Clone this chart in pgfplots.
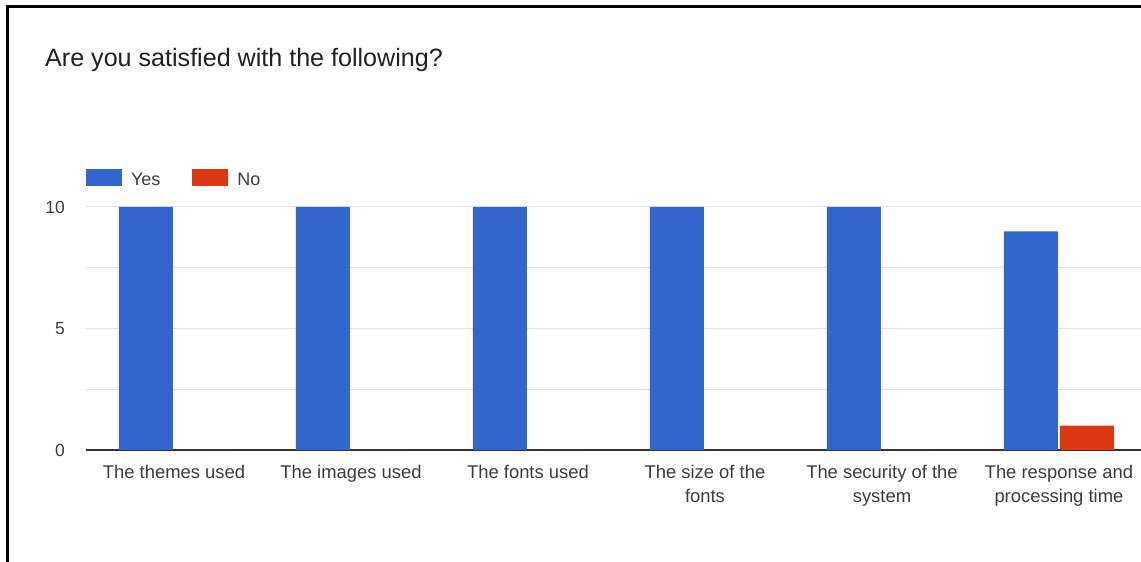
\documentclass[border=0pt]{standalone}
\usepackage{fontspec}
\setmainfont{Liberation Sans}
\usepackage{pgfplots}
\pgfplotsset{compat=1.18}

\definecolor{gblue}{HTML}{3366CC}
\definecolor{gred}{HTML}{DC3912}
\definecolor{gridgray}{HTML}{E2E2E2}
\definecolor{basegray}{HTML}{333333}
\definecolor{labelgray}{HTML}{3C3C3C}
\definecolor{titlegray}{HTML}{212121}

% answers per question
\pgfplotstableread{
x yes no
0 10 0
1 10 0
2 10 0
3 10 0
4 10 0
5 9 1
}\answers

\begin{document}
\begin{tikzpicture}
\useasboundingbox (0pt,0pt) rectangle (1141pt,562pt);
\fill[white] (0pt,0pt) rectangle (1141pt,562pt);
\begin{scope}
\clip (0pt,0pt) rectangle (1141pt,562pt);

% frame
\draw[line width=2.7pt, line cap=rect] (7.5pt,-5pt) -- (7.5pt,555.8pt) -- (1150pt,555.8pt);

% title
\node[anchor=base west, inner sep=0pt, text=titlegray,
      font=\fontsize{25.1}{30}\selectfont] at (45pt,495pt)
  {Are you satisfied with the following?};

\begin{axis}[
  at={(85.5pt,112pt)}, anchor=south west,
  scale only axis,
  width=1062pt, height=243pt,
  xmin=-0.5, xmax=5.5,
  ymin=0, ymax=10,
  ybar, bar width=54pt,
  xtick={0,...,5},
  xticklabels={The themes used, The images used, The fonts used,
    {The size of the\\fonts}, {The security of the\\system},
    {The response and\\processing time}},
  ytick={0,5,10},
  minor ytick={2.5,7.5},
  ymajorgrids, yminorgrids,
  major grid style={draw=gridgray, line width=1pt},
  minor grid style={draw=gridgray, line width=1pt},
  major tick length=0pt, minor tick length=0pt,
  axis x line*=bottom, axis y line*=left,
  x axis line style={-, draw=basegray, line width=1.6pt},
  y axis line style={draw=none},
  /pgf/number format/assume math mode=true,
  xticklabel style={align=center, anchor=north, inner sep=0pt, yshift=-14.9pt,
    text=labelgray, font=\fontsize{18.4}{24.5}\selectfont},
  yticklabel style={anchor=east, inner sep=0pt, xshift=-20.5pt,
    text=labelgray, font=\fontsize{17.5}{21}\selectfont},
  legend columns=2,
  legend style={at={(axis description cs:0,1)}, anchor=south west,
    xshift=0.5pt, yshift=20pt,
    draw=none, fill=none, inner sep=0pt, outer sep=0pt,
    font=\fontsize{18}{21}\selectfont, text=labelgray,
    nodes={inner sep=0pt, outer sep=0pt},
    /tikz/every odd column/.append style={column sep=9pt},
    /tikz/every even column/.append style={column sep=32pt}},
  legend image code/.code={\fill[#1] (0pt,-6pt) rectangle (36pt,11pt);},
  clip=false,
]
\addplot[fill=gblue, draw=none, bar shift=-28pt] table[x=x, y=yes] {\answers};
\addplot[fill=gred, draw=none, bar shift=28pt] table[x=x, y=no] {\answers};
\legend{Yes, No}
\end{axis}
\end{scope}
\end{tikzpicture}
\end{document}
